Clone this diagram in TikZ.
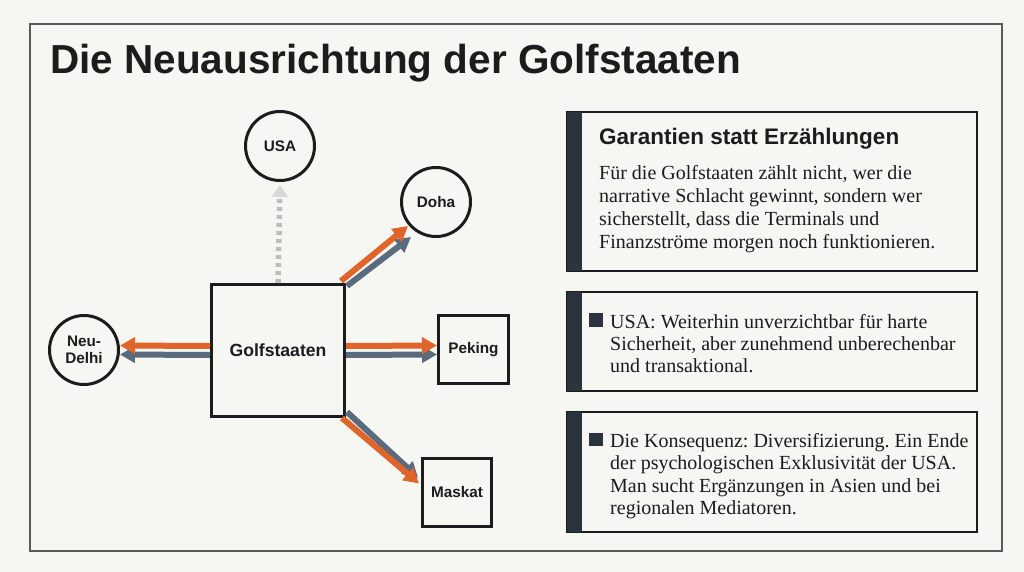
\documentclass[tikz,border=0pt]{standalone}
\usepackage{fontspec}
\setmainfont{Liberation Serif}
\setsansfont{Liberation Sans}
\usetikzlibrary{arrows.meta}
\definecolor{bg}{HTML}{F6F6F2}
\definecolor{ink}{HTML}{1C1C1C}
\definecolor{framec}{HTML}{5A5A5A}
\definecolor{orng}{HTML}{E0652B}
\definecolor{slate}{HTML}{5A6B7E}
\definecolor{barc}{HTML}{2B343C}
\definecolor{dashg}{HTML}{BDBDBD}
\definecolor{headg}{HTML}{D8D8D8}
\tikzset{
  circnode/.style={circle, draw=ink, line width=3pt, fill=bg, minimum size=69pt, inner sep=0pt,
    font=\sffamily\bfseries\fontsize{15.3}{17}\selectfont, text=ink, align=center},
  sqnode/.style={rectangle, draw=ink, line width=3pt, fill=bg, inner sep=0pt,
    font=\sffamily\bfseries\fontsize{15.3}{17}\selectfont, text=ink},
  oarr/.style={draw=orng, line width=6pt, -{Triangle[length=15pt,width=16pt]}},
  barr/.style={draw=slate, line width=6pt, -{Triangle[length=15pt,width=16pt]}},
  dasharr/.style={draw=dashg, line width=5.5pt, dash pattern=on 4pt off 4pt,
    -{Triangle[length=12pt,width=16pt,fill=headg,color=headg]}},
  panel/.style={draw=ink, line width=1.5pt, fill=bg},
  barfill/.style={fill=barc},
  bodytext/.style={anchor=base west, inner sep=0pt, text=ink},
  bulletsq/.style={fill=barc}
}
\newcommand{\bodyblock}[2]{\parbox[t]{380pt}{\raggedright\frenchspacing\fontsize{20}{#1}\selectfont #2}}
\begin{document}
\begin{tikzpicture}[x=1pt,y=-1pt]
\useasboundingbox (0,0) rectangle (1024,572);
\fill[bg] (0,0) rectangle (1024,572);
\draw[framec, line width=1.3pt] (30,24) rectangle (1002,551);
\node[anchor=base west, inner sep=0pt, text=ink, font=\sffamily\bfseries\fontsize{40.5}{48}\selectfont] (title) at (50,74) {Die Neuausrichtung der Golfstaaten};

% diagram nodes
\node[sqnode, minimum width=133pt, minimum height=132pt, font=\sffamily\bfseries\fontsize{17.6}{20}\selectfont] (gulf) at (278,350.5) {Golfstaaten};
\node[circnode] (usa) at (280,146) {USA};
\node[circnode] (doha) at (436,202) {Doha};
\node[circnode] (delhi) at (84,350) {Neu-\\Delhi};
\node[sqnode, minimum width=70pt, minimum height=68pt] (peking) at (473.5,349.5) {Peking};
\node[sqnode, minimum width=69pt, minimum height=68pt] (maskat) at (457,492.5) {Maskat};

% connectors
\draw[dasharr] (gulf.north) -- ([shift={(0,3)}]usa.south);
\draw[barr] ([shift={(0,4.5)}]gulf.west) -- ([shift={(0,4.5)}]delhi.east);
\draw[oarr] ([shift={(0,-4.5)}]gulf.west) -- ([shift={(0,-4.5)}]delhi.east);
\draw[barr] ([shift={(0,4.5)}]gulf.east) -- ([shift={(0,5)}]peking.west);
\draw[oarr] ([shift={(0,-4.5)}]gulf.east) -- ([shift={(0,-4)}]peking.west);
\draw[barr] ([shift={(1,3)}]gulf.north east) -- ([shift={(-25,35)}]doha.center);
\draw[oarr] ([shift={(-5,-2)}]gulf.north east) -- ([shift={(-28,24)}]doha.center);
\draw[barr] ([shift={(1,-6)}]gulf.south east) -- ([shift={(-39,-15)}]maskat.center);
\draw[oarr] ([shift={(-4,0)}]gulf.south east) -- ([shift={(-38,-9)}]maskat.center);

% panel 1
\draw[panel] (567,112) rectangle (977,271);
\fill[barfill] (567,112) rectangle (582,271);
\node[anchor=base west, inner sep=0pt, text=ink, font=\sffamily\bfseries\fontsize{22.5}{26}\selectfont] (h1) at (599,145) {Garantien statt Erzählungen};
\node[bodytext] (p1) at (599,179) {\bodyblock{23}{Für die Golfstaaten zählt nicht, wer die\\narrative Schlacht gewinnt, sondern wer\\sicherstellt, dass die Terminals und\\Finanzströme morgen noch funktionieren.}};

% panel 2
\draw[panel] (567,292) rectangle (977,391);
\fill[barfill] (567,292) rectangle (582,391);
\fill[bulletsq] (589,313) rectangle (603,327);
\node[bodytext] (p2) at (610,328) {\bodyblock{22}{USA: Weiterhin unverzichtbar für harte\\Sicherheit, aber zunehmend unberechenbar\\und transaktional.}};

% panel 3
\draw[panel] (567,412) rectangle (977,532);
\fill[barfill] (567,412) rectangle (582,532);
\fill[bulletsq] (589,433) rectangle (603,446);
\node[bodytext] (p3) at (610,447) {\bodyblock{22.5}{Die Konsequenz: Diversifizierung. Ein Ende\\der psychologischen Exklusivität der USA.\\Man sucht Ergänzungen in Asien und bei\\regionalen Mediatoren.}};
\end{tikzpicture}
\end{document}
